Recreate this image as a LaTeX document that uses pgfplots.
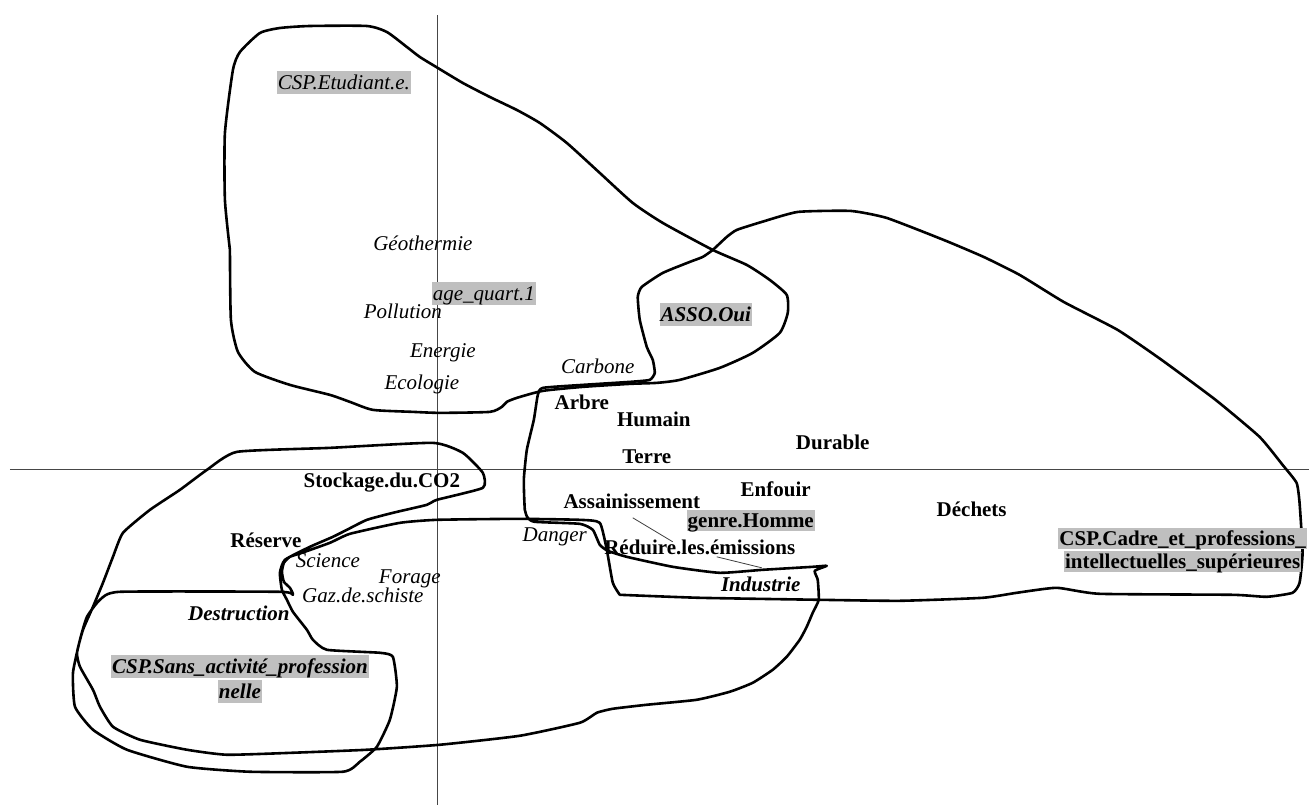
\documentclass[border=0pt]{standalone}
\usepackage{pgfplots}
\pgfplotsset{compat=1.18}
\usepackage{fontspec}
\setmainfont{Liberation Serif}
\definecolor{hl}{RGB}{191,191,191}
\definecolor{axl}{RGB}{70,70,70}
\begin{document}
\begin{tikzpicture}
\begin{axis}[
  width=1309pt, height=807pt, scale only axis,
  xmin=0, xmax=1309, ymin=0, ymax=807, y dir=reverse,
  axis line style={draw=none}, ticks=none, clip=false,
  lbl/.style={only marks, mark=none, nodes near coords, point meta=explicit symbolic},
]
% axes of the factorial plane
\addplot[axl, line width=0.9pt] coordinates {(438,15) (438,805)};
\addplot[axl, line width=0.9pt] coordinates {(10,470) (1309,470)};
% leader lines
\addplot[black!75, line width=0.8pt] coordinates {(633,518) (673,542)};
\addplot[black!75, line width=0.8pt] coordinates {(717,557) (762,568)};

% Etudiant + ASSO contour
\addplot[black, line width=2.6pt, line join=round, line cap=round, smooth, tension=0.35] coordinates {
(230,250) (225,200) (225,133) (233,70) (240,52) (260,33) (280,28) (310,26) (367,26) (387,32) (407,47) (420,57) (438,68) (463,83) (490,97) (517,110) (540,123) (567,143) (600,173) (633,203) (663,223) (713,250) (747,265) (770,280) (787,295) (788,313) (780,333) (753,353) (720,368) (680,380) (657,383) (630,384) (583,387) (543,391) (517,398) (507,402) (502,407) (490,412) (440,413) (413,412) (373,410) (350,402) (330,395) (290,385) (255,372) (238,352) (231,320) (230,250)};

% big contour (Cadre, lower groups)
\addplot[black, line width=2.6pt, line join=round, line cap=round, smooth, tension=0.3] coordinates {
(620,595) (700,598) (820,600) (900,601) (983,598) (1017,593) (1057,588) (1100,594) (1233,595) (1267,597) (1293,593) (1300,583) (1303,553) (1300,503) (1297,483) (1283,465) (1260,437) (1216,400) (1162,360) (1118,330) (1064,302) (1020,275) (984,257) (944,240) (887,218) (851,211) (798,212) (762,222) (737,230) (727,237) (713,250) (703,257) (690,262) (663,273) (642,287) (638,297) (640,320) (647,347) (653,360) (655,373) (650,380) (630,382) (583,385) (543,388) (538,395) (534,420) (527,450) (524,480) (525,510) (528,518) (535,522) (580,524) (593,530) (600,545) (608,551) (627,557) (673,567) (720,573) (763,570) (813,567) (827,566) (815,571) (818,580) (819,600) (813,613) (807,627) (800,640) (787,657) (773,670) (753,683) (730,692) (697,700) (647,705) (613,709) (597,713) (580,723) (520,736) (440,745) (367,750) (293,753) (227,755) (187,750) (140,740) (113,727) (100,707) (93,690) (80,667) (77,653) (83,630) (93,607) (103,583) (113,557) (123,533) (150,510) (180,490) (207,470) (237,452) (330,448) (433,443) (463,453) (483,473) (483,488) (437,500) (427,505) (393,513) (367,520) (347,530) (333,537) (310,547) (285,560) (280,573) (282,590) (287,600) (293,612) (307,630) (313,640) (327,650) (380,653) (393,657) (397,687) (390,720) (377,747) (360,762) (343,772) (250,772) (187,767) (127,750) (93,730) (75,707) (73,673) (80,640) (87,617) (100,600) (120,592) (280,592) (293,595) (290,588) (284,582) (282,572) (284,563) (290,557) (302,553) (330,543) (350,534) (400,523) (437,520) (517,519) (580,520) (600,523) (607,550) (613,583) (620,595)};

% labels: italic
\addplot[lbl, nodes near coords style={anchor=base, font=\fontsize{21}{25}\selectfont\itshape}]
 table[meta=t, col sep=comma] {
x,y,t
423,251,Géothermie
403,319,Pollution
443,358,Energie
422,390,Ecologie
598,374,Carbone
555,542,Danger
328,568,Science
410,584,Forage
363,603,Gaz.de.schiste
};
% labels: bold
\addplot[lbl, nodes near coords style={anchor=base, font=\fontsize{21}{25}\selectfont\bfseries}]
 table[meta=t, col sep=comma] {
x,y,t
582,410,Arbre
654,427,Humain
833,450,Durable
647,464,Terre
382,488,Stockage.du.CO2
776,497,Enfouir
632,509,Assainissement
972,517,Déchets
266,548,Réserve
700,555,Réduire.les.émissions
};
% labels: bold italic
\addplot[lbl, nodes near coords style={anchor=base, font=\fontsize{21}{25}\selectfont\bfseries\itshape}]
 table[meta=t, col sep=comma] {
x,y,t
761,592,Industrie
239,621,Destruction
};
% highlighted: italic
\addplot[lbl, nodes near coords style={anchor=base, fill=hl, text height=18pt, text depth=3pt, inner xsep=1pt, inner ysep=1pt, font=\fontsize{21}{25}\selectfont\itshape}]
 table[meta=t, col sep=comma] {
x,y,t
344,90,CSP.Etudiant.e.
484,301,age\_quart.1
};
% highlighted: bold italic
\addplot[lbl, nodes near coords style={anchor=base, fill=hl, text height=18pt, text depth=3pt, inner xsep=1pt, inner ysep=1pt, font=\fontsize{21}{25}\selectfont\bfseries\itshape}]
 table[meta=t, col sep=comma] {
x,y,t
706,322,ASSO.Oui
240,674,CSP.Sans\_activité\_profession
240,699,nelle
};
% highlighted: bold
\addplot[lbl, nodes near coords style={anchor=base, fill=hl, text height=17pt, text depth=3pt, inner xsep=1pt, inner ysep=0.5pt, font=\fontsize{21}{25}\selectfont\bfseries}]
 table[meta=t, col sep=comma] {
x,y,t
751,528,genre.Homme
1183,546,CSP.Cadre\_et\_professions\_
1183,569,intellectuelles\_supérieures
};
\end{axis}
\end{tikzpicture}
\end{document}
